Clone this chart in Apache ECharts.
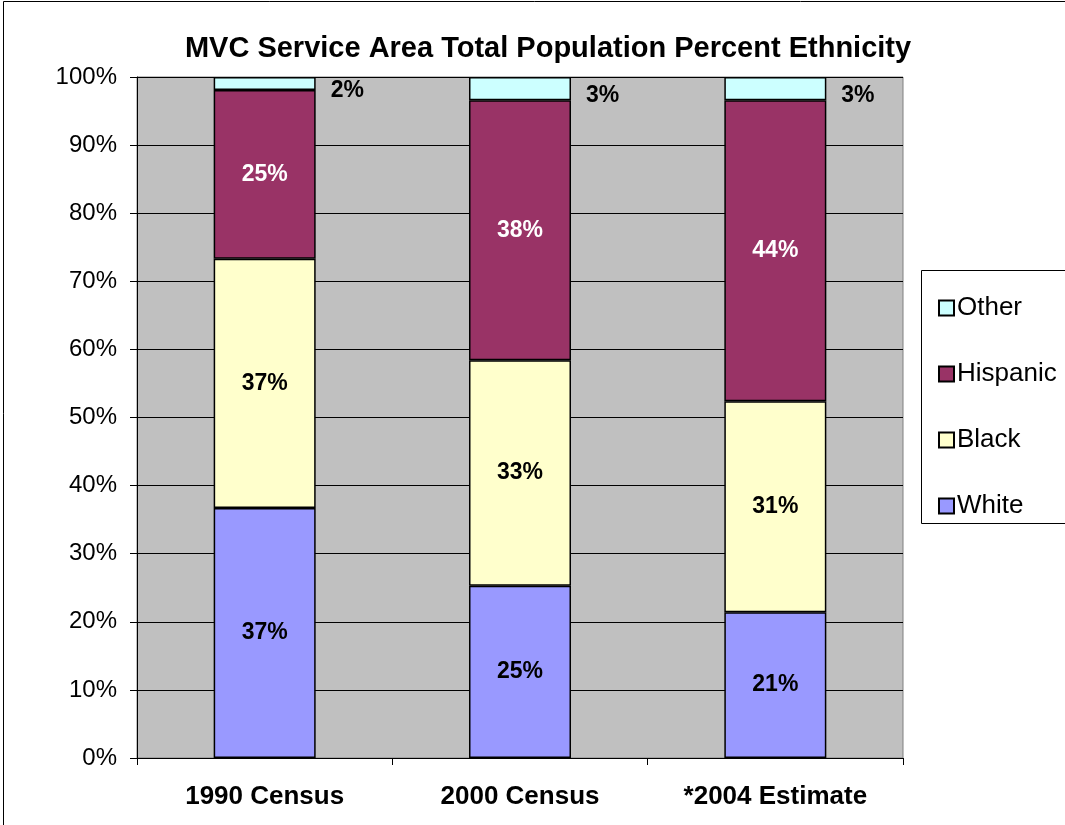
<!DOCTYPE html>
<html>
<head>
<meta charset="utf-8">
<script src="https://cdn.jsdelivr.net/npm/echarts@6/dist/echarts.min.js"></script>
<style>html,body{margin:0;padding:0;background:#fff}#c{width:1065px;height:825px}</style>
</head>
<body>
<div id="c"></div>
<script>
var categories = ['1990 Census', '2000 Census', '*2004 Estimate'];
var white = [36.7, 25.3, 21.4];
var black = [36.6, 33.1, 31.0];
var hispanic = [24.8, 38.2, 44.2];
var other = [1.9, 3.4, 3.4];
var yTicks = [0, 10, 20, 30, 40, 50, 60, 70, 80, 90, 100];

var FONT = '"Liberation Sans", Arial, sans-serif';
var chart = echarts.init(document.getElementById('c'));
function pct(p) { return Math.round(p.value) + '%'; }
function mk(name, data, color, labelColor, pos) {
  return {
    name: name, type: 'bar', stack: 'all', data: data, barWidth: 102,
    itemStyle: { color: color, borderColor: '#000', borderWidth: 1.5 },
    label: {
      show: true, position: pos || 'inside', formatter: pct,
      color: labelColor, fontFamily: FONT, fontWeight: 'bold', fontSize: 23,
      offset: pos === 'right' ? [10, 7] : [0, 0]
    },
    emphasis: { disabled: true }
  };
}
chart.setOption({
  animation: false,
  title: {
    text: 'MVC Service Area Total Population Percent Ethnicity',
    left: 543, top: 29, textAlign: 'center',
    textStyle: { fontFamily: FONT, fontWeight: 'bold', fontSize: 29, color: '#000' }
  },
  graphic: [
    { type: 'rect', shape: { x: 3.5, y: 1.5, width: 1100, height: 1000 }, style: { fill: 'none', stroke: '#000', lineWidth: 1 }, silent: true, z: -10 },
    { type: 'rect', shape: { x: 921.5, y: 270.5, width: 200, height: 253 }, style: { fill: '#fff', stroke: '#000', lineWidth: 1 }, silent: true, z: 0 }
  ],
  legend: {
    orient: 'vertical', left: 933, top: 290,
    data: ['Other', 'Hispanic', 'Black', 'White'],
    itemWidth: 15, itemHeight: 15, itemGap: 40,
    icon: 'rect',
    textStyle: { fontFamily: FONT, fontSize: 26, lineHeight: 26, color: '#000', padding: [0, 0, 0, -2] },
    z: 10
  },
  grid: { left: 137, right: 162, top: 77, bottom: 67, show: true, backgroundColor: '#C0C0C0', borderColor: '#808080', borderWidth: 1 },
  xAxis: {
    type: 'category', data: categories,
    axisLine: { lineStyle: { color: '#000', width: 1 } },
    axisTick: { show: true, length: 7, lineStyle: { color: '#000' } },
    axisLabel: { fontFamily: FONT, fontWeight: 'bold', fontSize: 26, color: '#000', margin: 26 }
  },
  yAxis: {
    type: 'value', min: 0, max: 100, interval: 10,
    axisLine: { show: true, lineStyle: { color: '#000', width: 1 } },
    axisTick: { show: true, length: 7, lineStyle: { color: '#000' } },
    axisLabel: { fontFamily: FONT, fontSize: 24, color: '#000', margin: 20,
      formatter: function (v) { return yTicks.indexOf(v) >= 0 ? v + '%' : ''; } },
    splitLine: { show: true, lineStyle: { color: '#000', width: 1 } }
  },
  series: [
    mk('White', white, '#9999FF', '#000'),
    mk('Black', black, '#FFFFCC', '#000'),
    mk('Hispanic', hispanic, '#993366', '#fff'),
    mk('Other', other, '#CCFFFF', '#000', 'right')
  ]
});
</script>
</body>
</html>
